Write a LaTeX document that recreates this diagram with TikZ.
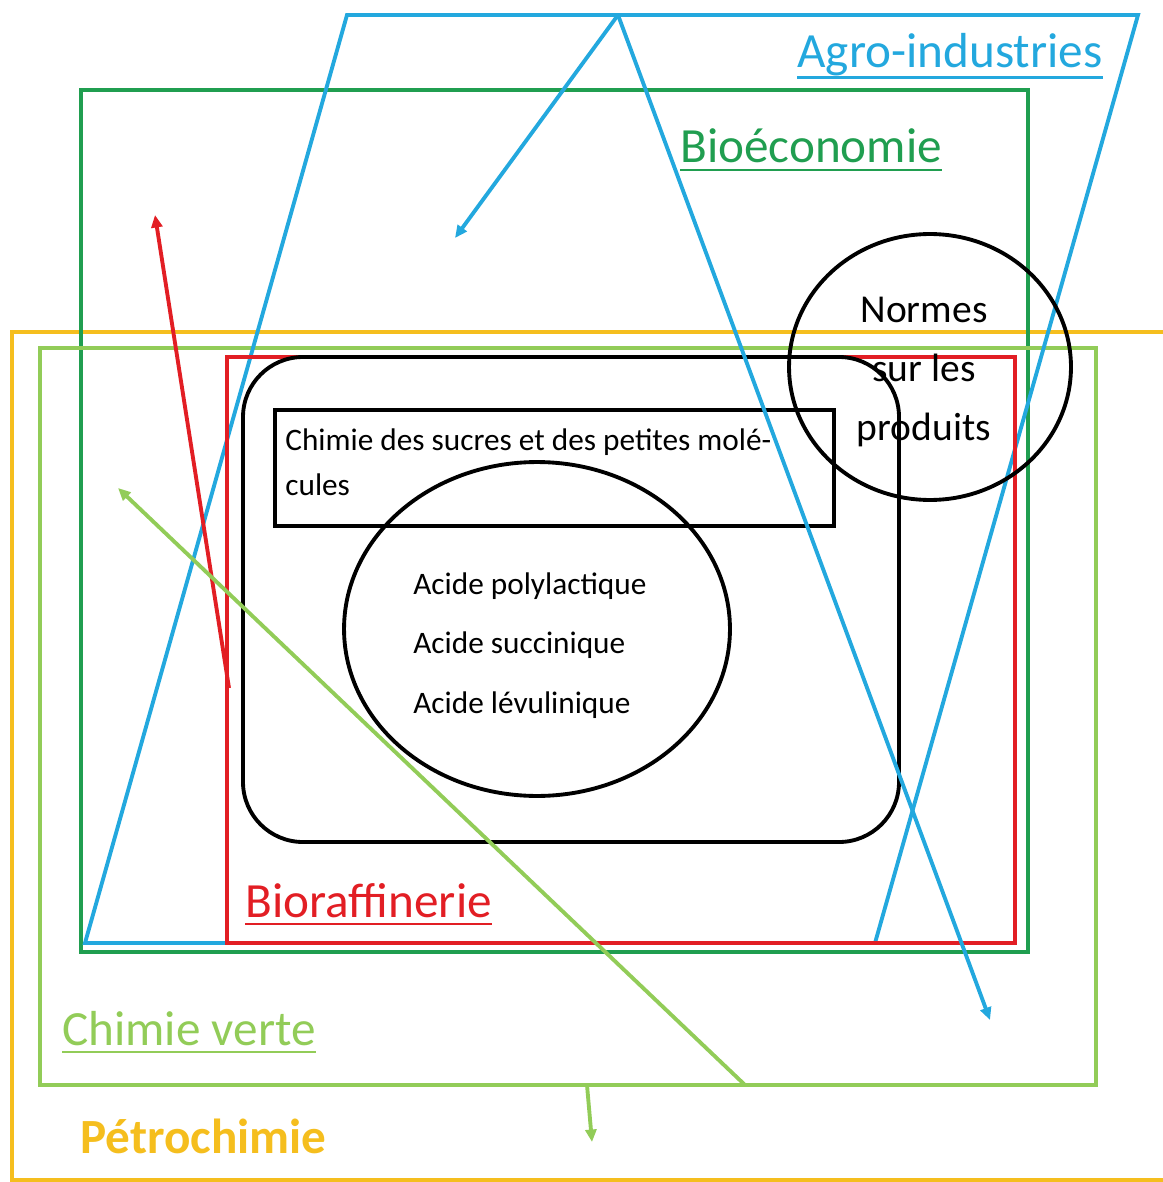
\documentclass[tikz,border=0pt]{standalone}
\usepackage{fontspec}
\setmainfont{Carlito}
\usetikzlibrary{arrows.meta, positioning}

\definecolor{agro}{RGB}{35,168,222}
\definecolor{bioeco}{RGB}{32,158,80}
\definecolor{verte}{RGB}{146,204,88}
\definecolor{petro}{RGB}{245,190,30}
\definecolor{raffi}{RGB}{226,30,36}

\begin{document}
\begin{tikzpicture}[x=0.02cm, y=-0.02cm,
  zone/.style={line width=2.2pt},
  trait/.style={line width=2.2pt},
  fl/.style={-{Triangle[length=2.5mm, width=2.2mm]}, line width=2.2pt},
  titre/.style={inner sep=0pt, anchor=base west, font=\fontsize{28}{33}\selectfont},
  petit/.style={inner sep=0pt, anchor=base west, align=left, font=\fontsize{17.8}{25.5}\selectfont},
  souligne/.style={line width=1.6pt}]

  \useasboundingbox (0,0) rectangle (1162,1182);

  % les domaines
  \draw[zone, petro] (12,332) rectangle (1180,1180);
  \draw[zone, bioeco] (81,90) rectangle (1028,952);
  \draw[zone, verte] (40,348) rectangle (1096,1085);
  \draw[zone, agro] (347,15) -- (1138,15) -- (875,943) -- (85,943) -- cycle;
  \draw[zone, raffi] (227,357) rectangle (1015,943);

  % chimie des sucres
  \draw[trait, rounded corners=1.2cm] (243,357) rectangle (899,842);
  \draw[trait] (275,410) rectangle (834,526);
  \draw[trait] (537,629) ellipse [x radius=3.86cm, y radius=3.34cm];
  \draw[trait] (930,367) ellipse [x radius=2.82cm, y radius=2.66cm];

  % fleches
  \coordinate (sommet) at (618,15);
  \coordinate (agro1) at (455,238);
  \coordinate (agro2) at (990,1020);
  \draw[fl, agro] (sommet) -- (agro1);
  \draw[fl, agro] (sommet) -- (agro2);

  \coordinate (raffi0) at (229,688);
  \coordinate (raffi1) at (155,215);
  \draw[fl, raffi] (raffi0) -- (raffi1);

  \coordinate (verte0) at (745,1085);
  \coordinate (verte1) at (118,488);
  \coordinate (verte2) at (587,1085);
  \coordinate (verte3) at (592,1142);
  \draw[fl, verte] (verte0) -- (verte1);
  \draw[fl, verte] (verte2) -- (verte3);

  % titres
  \node[titre, text=agro] (agro) at (797,68) {Agro-industries};
  \node[titre, text=bioeco] (bioeco) at (680,163) {Bioéconomie};
  \node[titre, text=raffi] (raffi) at (245,917) {Bioraffinerie};
  \node[titre, text=verte] (verte) at (62,1045) {Chimie verte};
  \node[titre, text=petro, font=\fontsize{28}{33}\selectfont\bfseries] (petro) at (80,1153) {Pétrochimie};

  \draw[souligne, agro] ([yshift=-5.5pt]agro.base west) -- ([yshift=-5.5pt]agro.base east);
  \draw[souligne, bioeco] ([yshift=-4pt]bioeco.base west) -- ([yshift=-4pt]bioeco.base east);
  \draw[souligne, raffi] ([yshift=-4pt]raffi.base west) -- ([yshift=-4pt]raffi.base east);
  \draw[souligne, verte] ([yshift=-4pt]verte.base west) -- ([yshift=-4pt]verte.base east);

  % textes
  \node[inner sep=0pt, align=center, font=\fontsize{22.5}{33.5}\selectfont] (normes) at (924,372)
    {Normes\\sur les\\produits};
  \node[petit] (sucres) at (285,495) {Chimie des sucres et des petites molé-\\cules};
  \node[petit, font=\fontsize{17.8}{33.7}\selectfont] (acides) at (413,713)
    {Acide polylactique\\Acide succinique\\Acide lévulinique};
\end{tikzpicture}
\end{document}
